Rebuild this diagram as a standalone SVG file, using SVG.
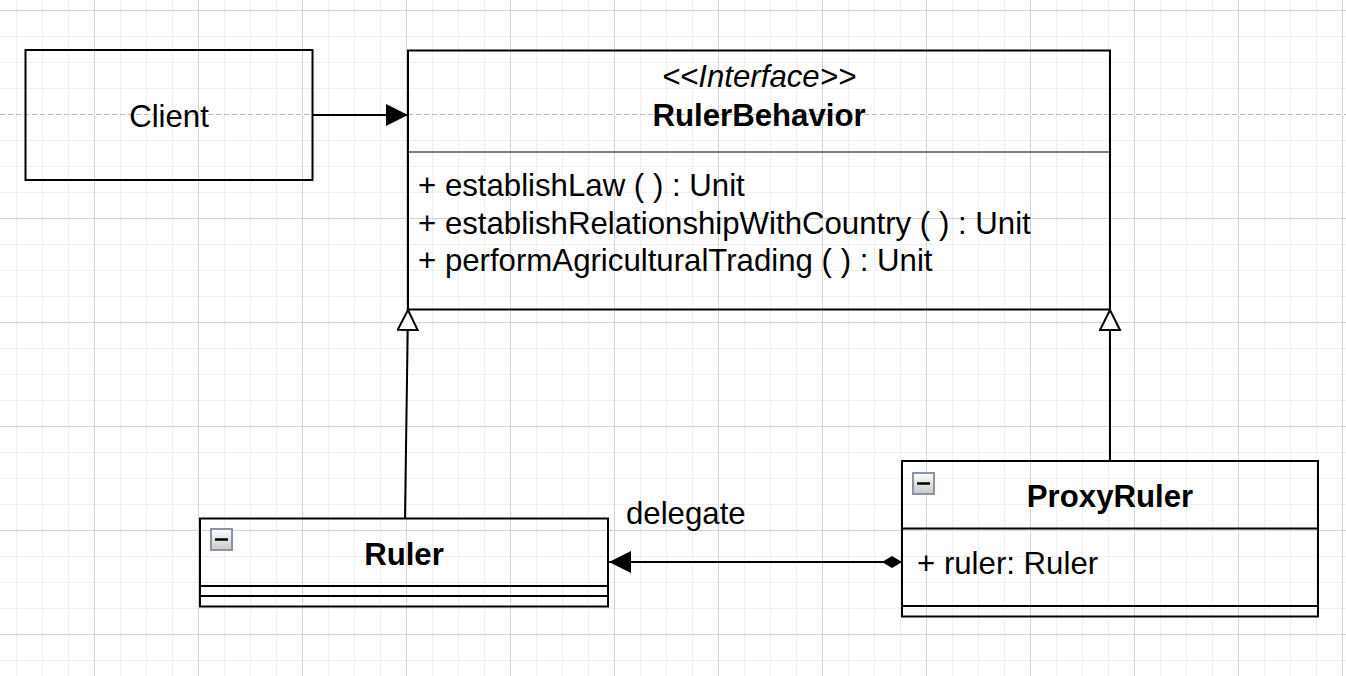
<svg xmlns="http://www.w3.org/2000/svg" width="1346" height="676" viewBox="0 0 1346 676">
  <style>
    .box { fill: none; stroke: #000; stroke-width: 2; }
    .sep { stroke: #000; stroke-width: 2; }
    .t { font-family: "Liberation Sans", Arial, Helvetica, sans-serif; font-size: 31.2px; fill: #000; }
    .b { font-weight: bold; }
    .i { font-style: italic; }
    .mid { text-anchor: middle; }
    .conn { fill: none; stroke: #000; stroke-width: 2; }
    .icon { fill: url(#iconGrad); stroke: #8a94a6; stroke-width: 2; }
  </style>
  <defs>
    <pattern id="grid" patternUnits="userSpaceOnUse" x="94" y="10" width="104" height="104">
      <path d="M26.5,0 V104 M52.5,0 V104 M78.5,0 V104 M0,26.5 H104 M0,52.5 H104 M0,78.5 H104" stroke="#efefef" stroke-width="1" fill="none"/>
      <path d="M0.5,0 V104 M0,0.5 H104" stroke="#d3d3d3" stroke-width="1" fill="none"/>
    </pattern>
    <linearGradient id="iconGrad" x1="0" y1="0" x2="0" y2="1">
      <stop offset="0" stop-color="#ffffff"/>
      <stop offset="1" stop-color="#c8c8c8"/>
    </linearGradient>
    <marker id="arrowFilled" markerUnits="userSpaceOnUse" markerWidth="24" markerHeight="24" refX="22" refY="11" orient="auto">
      <path d="M0,0 L22,11 L0,22 z" fill="#000"/>
    </marker>
    <marker id="arrowHollow" markerUnits="userSpaceOnUse" markerWidth="24" markerHeight="24" refX="21" refY="11" orient="auto">
      <path d="M1,1 L21,11 L1,21 z" fill="#fff" stroke="#000" stroke-width="2"/>
    </marker>
    <marker id="diamond" markerUnits="userSpaceOnUse" markerWidth="22" markerHeight="14" refX="0" refY="6" orient="auto">
      <path d="M0,6 L10,0 L20,6 L10,12 z" fill="#000"/>
    </marker>
  </defs>

  <rect x="0" y="0" width="1346" height="676" fill="#fff"/>
  <rect x="0" y="0" width="1346" height="676" fill="url(#grid)"/>
  <line x1="0" y1="114.5" x2="1346" y2="114.5" stroke="#fff" stroke-width="1"/>
  <line x1="0" y1="114.5" x2="1346" y2="114.5" stroke="#b8b8b8" stroke-width="1" stroke-dasharray="5 3"/>

  <g id="connectors">
    <path class="conn" d="M312,115 L408,115" marker-end="url(#arrowFilled)"/>
    <path class="conn" d="M405,518 L408,310" marker-end="url(#arrowHollow)"/>
    <path class="conn" d="M1110,461 L1110,310" marker-end="url(#arrowHollow)"/>
    <path class="conn" d="M902,562 L609,562" marker-start="url(#diamond)" marker-end="url(#arrowFilled)"/>
    <text class="t" x="626" y="524">delegate</text>
  </g>

  <g id="client">
    <rect class="box" x="25.5" y="50" width="287" height="130"/>
    <text class="t mid" x="169" y="126.5">Client</text>
  </g>

  <g id="rulerBehavior">
    <rect class="box" x="408" y="50.5" width="702" height="259"/>
    <line x1="409" y1="152" x2="1109" y2="152" stroke="#808080" stroke-width="2"/>
    <text class="t i mid" x="759" y="86.5">&lt;&lt;Interface&gt;&gt;</text>
    <text class="t b mid" x="759" y="126">RulerBehavior</text>
    <text class="t" x="418" y="196">+ establishLaw ( ) : Unit</text>
    <text class="t" x="418" y="233.5">+ establishRelationshipWithCountry ( ) : Unit</text>
    <text class="t" x="418" y="271">+ performAgriculturalTrading ( ) : Unit</text>
  </g>

  <g id="ruler">
    <rect class="box" x="200" y="518.5" width="408" height="88"/>
    <line class="sep" x1="200" y1="586" x2="608" y2="586"/>
    <line class="sep" x1="200" y1="596" x2="608" y2="596"/>
    <rect class="icon" x="211" y="529" width="21" height="21"/>
    <line x1="215" y1="539.5" x2="228" y2="539.5" stroke="#000" stroke-width="2.5"/>
    <text class="t b mid" x="404" y="565">Ruler</text>
  </g>

  <g id="proxyRuler">
    <rect class="box" x="902" y="461" width="416" height="155.5"/>
    <line class="sep" x1="902" y1="528.5" x2="1318" y2="528.5"/>
    <line class="sep" x1="902" y1="606" x2="1318" y2="606"/>
    <rect class="icon" x="913" y="473" width="21" height="21"/>
    <line x1="917" y1="483.5" x2="930" y2="483.5" stroke="#000" stroke-width="2.5"/>
    <text class="t b mid" x="1110" y="507">ProxyRuler</text>
    <text class="t" x="917" y="573.5">+ ruler: Ruler</text>
  </g>
</svg>
